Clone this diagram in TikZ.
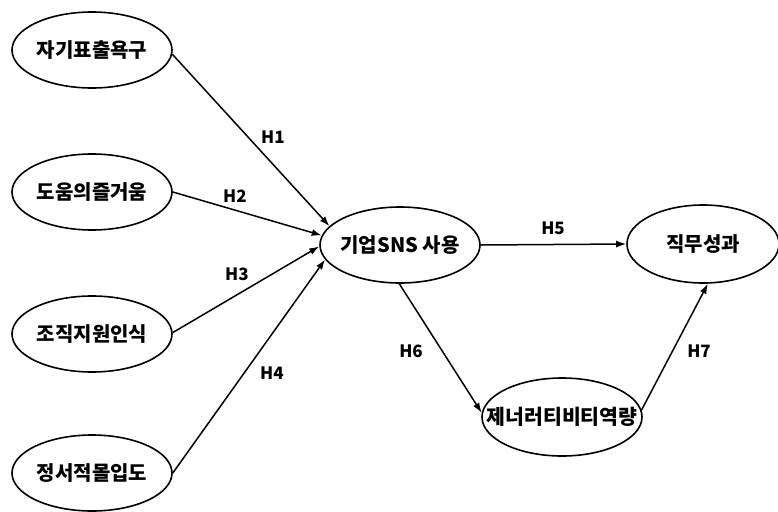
\documentclass[tikz,border=0pt]{standalone}
\usepackage{fontspec}
\setmainfont{Noto Sans CJK KR}
\usetikzlibrary{shapes.geometric,arrows.meta}
\newcommand{\fixedlabel}[1]{\makebox[0pt][c]{#1}}
\tikzset{
  construct/.style={ellipse, draw, line width=1.6pt, inner sep=0pt,
    minimum width=160pt, minimum height=76pt,
    font=\fontsize{20}{22}\selectfont\bfseries},
  path/.style={line width=1.5pt, -{Latex[length=10pt,width=7pt]}},
  hyp/.style={font=\fontsize{17}{19}\selectfont\bfseries, inner sep=0pt}
}
\begin{document}
\begin{tikzpicture}[x=1pt,y=-1pt]
  \useasboundingbox[fill=white] (0,0) rectangle (778,511);

  % antecedents
  \node[construct] (self)    at (92,50)  {\fixedlabel{자기표출욕구}};
  \node[construct] (joy)     at (92,192) {\fixedlabel{도움의즐거움}};
  \node[construct] (support) at (92,334) {\fixedlabel{조직지원인식}};
  \node[construct] (commit)  at (92,473) {\fixedlabel{정서적몰입도}};

  % mediator and outcomes
  \node[construct] (sns)  at (400,245) {\fixedlabel{기업SNS 사용}};
  \node[construct, minimum width=152pt, minimum height=78pt] (perf) at (703,244) {\fixedlabel{직무성과}};
  \node[construct, minimum height=78pt, font=\fontsize{20.5}{23}\selectfont\bfseries] (gen) at (562,417) {\fixedlabel{제너러티비티역량}};

  % hypothesised paths
  \draw[path] (self.-3)   -- (sns.165);
  \draw[path] (joy.0)     -- (sns.173);
  \draw[path] (support.1) -- (sns.181);
  \draw[path] (commit.0)  -- (sns.191);
  \draw[path] (sns.east)  -- (perf.west);
  \draw[path] (sns.269)   -- (gen.177);
  \draw[path] (gen.5)     -- (perf.277);

  % path labels
  \node[hyp] (h1) at (273,137) {H1};
  \node[hyp] (h2) at (235,196) {H2};
  \node[hyp] (h3) at (237,274) {H3};
  \node[hyp] (h4) at (272,373) {H4};
  \node[hyp] (h5) at (553,228) {H5};
  \node[hyp] (h6) at (411,351) {H6};
  \node[hyp] (h7) at (699,351) {H7};
\end{tikzpicture}
\end{document}
